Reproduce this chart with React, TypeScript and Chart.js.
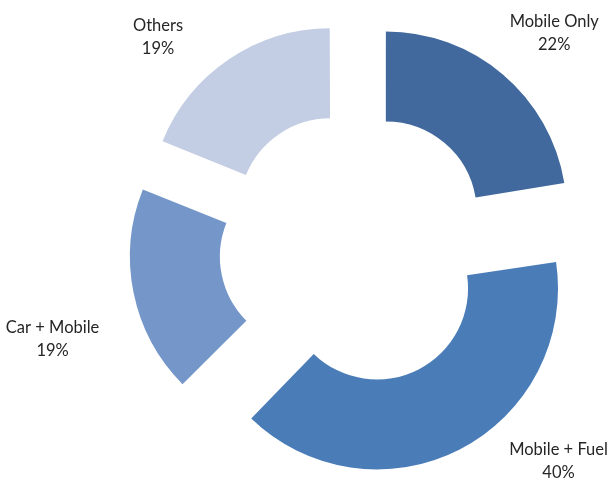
import React, { useEffect, useRef } from "react";
import { Chart, registerables } from "chart.js";

Chart.register(...registerables);

const categories = ["Mobile Only", "Mobile + Fuel", "Car + Mobile", "Others"];
const shares = [22.4, 40.1, 18.6, 18.9];
const shareLabels = ["22%", "40%", "19%", "19%"];
const colors = ["#41699E", "#4A7DB8", "#7496C8", "#C3CDE3"];
// explode distance (px) of every slice
const EXPLODE = 46;
// label nudges relative to the radial anchor
const labelNudgeX = [19, 76, -32, -43];
const labelNudgeY = [-3.5, -32.5, 36.5, 19.5];

const FONT = "Lato, 'Open Sans', sans-serif";

// Chart.js grows the radius of wide arcs when offset is used; undo that so
// every slice is only translated outward.
const explodeFix = {
  id: "explodeFix",
  beforeDatasetsDraw(chart: any) {
    const meta = chart.getDatasetMeta(0);
    const ctrl: any = meta.controller;
    meta.data.forEach((arc: any) => {
      const circ = arc.circumference;
      const fix = 1 - Math.sin(Math.min(Math.PI, circ || 0));
      const comp = EXPLODE * fix;
      arc.outerRadius = ctrl.outerRadius - comp;
      arc.innerRadius = ctrl.innerRadius - comp;
    });
  },
};

const labelPlugin = {
  id: "outsideLabels",
  afterDatasetsDraw(chart: any) {
    const ctx = chart.ctx;
    const meta = chart.getDatasetMeta(0);
    const ctrl: any = meta.controller;
    ctx.save();
    ctx.fillStyle = "#262626";
    ctx.font = `16.5px ${FONT}`;
    ctx.textAlign = "center";
    ctx.textBaseline = "middle";
    meta.data.forEach((arc: any, i: number) => {
      const mid = (arc.startAngle + arc.endAngle) / 2;
      const d = ctrl.outerRadius + EXPLODE + 50;
      const x = arc.x + Math.cos(mid) * d + labelNudgeX[i];
      const y = arc.y + Math.sin(mid) * d + labelNudgeY[i];
      ctx.fillText(categories[i], x, y - 11.5);
      ctx.fillText(shareLabels[i], x, y + 11.5);
    });
    ctx.restore();
  },
};

export default function App() {
  const ref = useRef<HTMLCanvasElement>(null);
  useEffect(() => {
    if (!ref.current) return;
    const chart = new Chart(ref.current, {
      type: "doughnut",
      data: {
        labels: categories,
        datasets: [
          {
            data: shares,
            backgroundColor: colors,
            borderWidth: 0,
            offset: EXPLODE * 4,
          },
        ],
      },
      options: {
        responsive: true,
        maintainAspectRatio: false,
        animation: false,
        events: [],
        radius: 181,
        cutout: "50.3%",
        layout: { padding: { left: 101, right: 0, top: 16, bottom: 0 } },
        plugins: { legend: { display: false }, tooltip: { enabled: false } },
      } as any,
      plugins: [explodeFix, labelPlugin],
    });
    return () => chart.destroy();
  }, []);
  return (
    <div
      style={{
        position: "fixed",
        left: 0,
        top: 0,
        width: 611,
        height: 479,
        background: "#ffffff",
      }}
    >
      <canvas ref={ref} />
    </div>
  );
}
